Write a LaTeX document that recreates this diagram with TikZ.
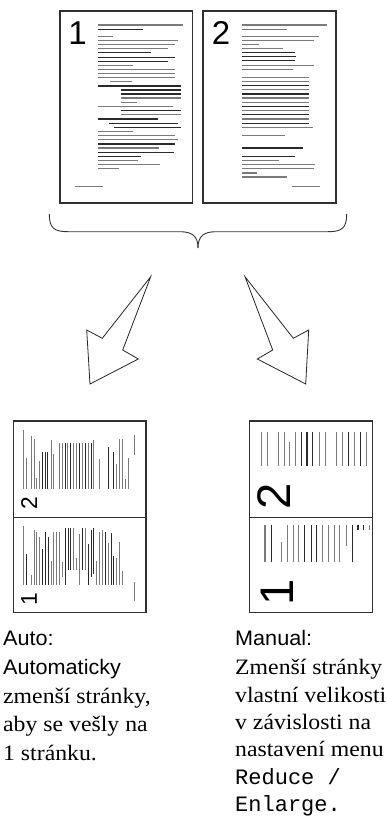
\documentclass[tikz,border=0pt]{standalone}
\usepackage{fontspec}
\setmainfont{Liberation Serif}[FakeStretch=1.08]
\newfontfamily\labsans{Liberation Sans}
\newfontfamily\labsanslab{Liberation Sans}[FakeStretch=1.03]
\setmonofont{Liberation Mono}
\definecolor{lg}{HTML}{7A7A7A}
\definecolor{ld}{HTML}{2A2A2A}
\definecolor{boxc}{HTML}{303030}
\tikzset{
 pagebox/.style={draw=boxc, line width=1.2pt},
 tline/.style={line width=1.1pt},
 num/.style={font=\labsans\fontsize{33}{33}\selectfont, inner sep=0pt, anchor=north west},
 arr/.style={draw=black!85, line width=0.8pt, fill=white, line join=miter},
 lab/.style={anchor=base west, inner sep=0pt, font=\labsanslab\fontsize{21}{24}\selectfont},
 body/.style={anchor=base west, inner sep=0pt, font=\fontsize{22}{26}\selectfont},
 code/.style={anchor=base west, inner sep=0pt, font=\ttfamily\fontsize{22}{26}\selectfont},
}
% page 1 content, local coords: u from page left, v absolute
\newcommand\pgone[2][]{%
 \foreach \a/\b/\v/\c in {38.3/123.3/25/lg, 38.3/83.3/29.3/ld, 38.3/52.7/36.7/lg,
  38.3/118.3/40.7/lg, 38.3/115/44.7/lg, 38.3/108.3/48.7/lg, 38.3/90.7/52.7/ld,
  38.3/115/57.3/ld, 38.3/108.3/61.3/ld, 38.3/72.7/65.3/lg, 38.3/115/69.3/lg,
  38.3/115/73.3/lg, 38.3/115/77.3/lg, 50/71.7/81.7/lg, 38.3/120.7/86/ld,
  60.7/120.7/90/ld, 60.7/120.7/94/ld, 60.7/120.7/98/lg, 60.7/76.7/102.3/lg,
  38.3/112.7/106.7/lg, 60.7/120.7/110.7/ld, 60.7/120.7/114.7/lg, 38.3/97.7/119/ld,
  49.3/118.3/123.3/ld, 54.3/120.7/127.3/ld, 38.3/72.7/131.7/lg, 38.3/115/135.7/lg,
  38.3/118.3/139.7/lg, 38.3/115/144/ld, 38.3/99/148/lg, 38.3/114/152.3/ld,
  38.3/81/156.3/ld, 38.3/77.7/160.7/lg, 38.3/100/164.7/lg, 38.3/59/168.7/lg,
  15/43.3/186.7/lg}
 {\draw[tline, draw=\c] (\a,\v) -- (\b,\v);}
 \node[num, #1] (#2) at (8.2,21.7) {1};
}
\newcommand\pgtwo[2][]{%
 \foreach \a/\b/\v/\c in {39/124/25/lg, 39/84/29.3/lg, 39/115.7/36.7/lg,
  39/111.3/40.7/lg, 39/55.7/44.7/lg, 39/80/48.7/lg, 39/92.3/52.7/ld,
  39/93.3/56.7/ld, 39/92.3/60.7/ld, 39/110.7/65.3/lg, 39/90/69.3/lg,
  39/105.7/77.3/lg, 39/105.7/81.7/lg, 39/105.7/85.7/ld, 39/105.7/89.7/lg,
  39/105.7/94/ld, 39/105.7/98/lg, 39/105.7/102.3/lg, 39/105.7/106.7/ld,
  39/105.7/110.7/lg, 39/105.7/114.7/ld, 39/105.7/119/lg, 39/105.7/123.3/ld,
  39/109.7/127.3/lg, 39/82.3/135.7/lg, 39/100/148/ld, 39/92.3/156.3/ld,
  39/75.7/160.7/lg, 39/112.3/164.7/lg, 39/111.3/168.7/lg, 39/54/173/lg,
  39/84/177/lg, 89/117.3/186.7/lg}
 {\draw[tline, draw=\c] (\a,\v) -- (\b,\v);}
 \node[num, #1] (#2) at (8.7,21.7) {2};
}
\begin{document}
\begin{tikzpicture}[x=1pt,y=-1pt]
\useasboundingbox (0,0) rectangle (387,829);
% top pages
\draw[pagebox] (60,11) rectangle (192.5,203);
\draw[pagebox] (203,11) rectangle (336,203);
\begin{scope}[shift={(60,0)}] \pgone{n1} \end{scope}
\begin{scope}[shift={(203,0)}] \pgtwo{n2} \end{scope}
% brace
\draw[draw=black!80, line width=0.9pt] (49.3,214) .. controls (49.3,228) and (54,231.7) .. (68,231.7)
  -- (180,231.7) .. controls (192,231.7) and (198,236) .. (198,248);
\draw[draw=black!80, line width=0.9pt] (346.7,214) .. controls (346.7,228) and (342,231.7) .. (328,231.7)
  -- (216,231.7) .. controls (204,231.7) and (198,236) .. (198,248);
% arrows
\draw[arr] (150.7,276.7) -- (102.3,338.3) -- (86.7,330) -- (90,384) -- (138.3,359) -- (122.7,350) -- cycle;
\draw[arr] (245,276.7) -- (293.3,338.3) -- (308.7,330) -- (305.7,384) -- (257.3,359) -- (272.7,350) -- cycle;
% bottom left box
\draw[pagebox] (13.3,421) rectangle (146,612.7);
\draw[pagebox] (13.3,517.3) -- (146,517.3);
\begin{scope}[shift={(6.05,516)}, rotate=90, scale=0.69] \pgtwo[transform shape]{a2} \end{scope}
\begin{scope}[shift={(6.05,611.4)}, rotate=90, scale=0.69] \pgone[transform shape]{a1} \end{scope}
% bottom right box
\draw[pagebox] (249.3,421) rectangle (372.7,612.7);
\draw[pagebox] (249.3,517.3) -- (372.7,517.3);
\begin{scope}
 \clip (250,432) rectangle (371,516);
 \begin{scope}[shift={(225.95,522)}, rotate=90, scale=1.43] \pgtwo[transform shape]{m2} \end{scope}
\end{scope}
\begin{scope}
 \clip (250,525) rectangle (371,612);
 \begin{scope}[shift={(229.25,617.1)}, rotate=90, scale=1.43] \pgone[transform shape]{m1} \end{scope}
\end{scope}
% texts left
\node[lab] (t1) at (3,645) {Auto:};
\node[lab] (t2) at (3,674) {Automaticky};
\node[body] (t3) at (3,703) {zmenší stránky,};
\node[body] (t4) at (3,731.5) {aby se vešly na};
\node[body] (t5) at (3,760) {1 stránku.};
% texts right
\node[lab] (r1) at (235,645) {Manual:};
\node[body] (r2) at (235,674) {Zmenší stránky};
\node[body] (r3) at (235,702) {vlastní velikosti};
\node[body] (r4) at (235,729) {v závislosti na};
\node[body] (r5) at (235,756) {nastavení menu};
\node[code] (r6) at (235,784) {Reduce /};
\node[code] (r7) at (235,811) {Enlarge.};
\end{tikzpicture}
\end{document}
